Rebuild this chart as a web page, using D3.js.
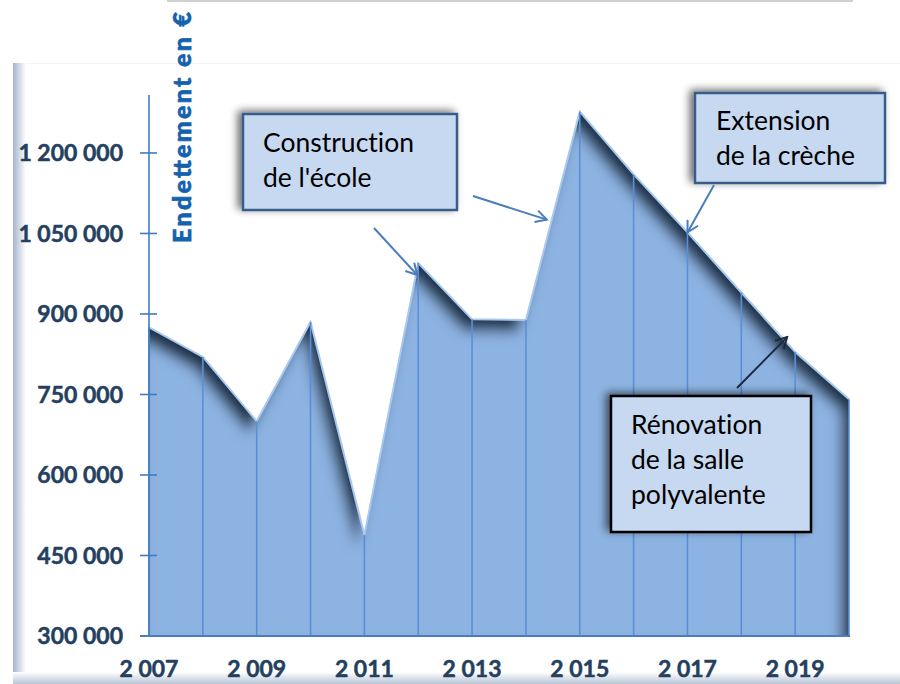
<!doctype html>
<html>
<head>
<meta charset="utf-8">
<script src="https://cdnjs.cloudflare.com/ajax/libs/d3/7.8.5/d3.min.js"></script>
<style>
  body { margin: 0; background: #fff; }
  svg { display: block; }
  .ytick text, .xtick text { font-family: Lato, "Liberation Sans", sans-serif; font-weight: bold; fill: #243f60; font-size: 23px; stroke: #243f60; stroke-width: 0.5px; }
  .note text { font-family: Lato, "Open Sans", sans-serif; font-size: 26.5px; fill: #000; font-variant-ligatures: none; }
</style>
</head>
<body>
<svg id="chart" width="900" height="684"></svg>
<script>
// data
var years = [2007, 2008, 2009, 2010, 2011, 2012, 2013, 2014, 2015, 2016, 2017, 2018, 2019, 2020];
var debt = [875000, 820000, 700000, 885000, 488000, 995000, 890000, 889000, 1277000, 1160000, 1052000, 940000, 829000, 741000];
var yTicks = [300000, 450000, 600000, 750000, 900000, 1050000, 1200000];
var xTicks = [2007, 2009, 2011, 2013, 2015, 2017, 2019];
var yTitle = "Endettement en €";
var notes = [
  ["Construction", "de l'école"],
  ["Extension", "de la crèche"],
  ["Rénovation", "de la salle", "polyvalente"]
];

var fmt = function (v) { return d3.format(",")(v).replace(/,/g, " "); };

var svg = d3.select("#chart");
var defs = svg.append("defs");

// frame gradients
var gl = defs.append("linearGradient").attr("id", "leftEdge").attr("x1", 0).attr("x2", 1);
gl.append("stop").attr("offset", 0).attr("stop-color", "#a3b5cc");
gl.append("stop").attr("offset", 1).attr("stop-color", "#ffffff");
var gb = defs.append("linearGradient").attr("id", "bottomEdge").attr("x1", 0).attr("x2", 0).attr("y1", 0).attr("y2", 1);
gb.append("stop").attr("offset", 0).attr("stop-color", "#ffffff");
gb.append("stop").attr("offset", 1).attr("stop-color", "#b8c5d5");

// inner shadow for the area
var f = defs.append("filter").attr("id", "inner").attr("x", "-10%").attr("y", "-10%").attr("width", "120%").attr("height", "120%");
f.append("feFlood").attr("flood-color", "#1f3149").attr("flood-opacity", 1).attr("result", "c");
f.append("feComposite").attr("in", "c").attr("in2", "SourceAlpha").attr("operator", "out").attr("result", "outside");
f.append("feOffset").attr("in", "outside").attr("dx", -8).attr("dy", 12).attr("result", "off");
f.append("feGaussianBlur").attr("in", "off").attr("stdDeviation", 6.5).attr("result", "blur");
f.append("feComposite").attr("in", "blur").attr("in2", "SourceAlpha").attr("operator", "in").attr("result", "shadow");
var fm = f.append("feMerge");
fm.append("feMergeNode").attr("in", "SourceGraphic");
fm.append("feMergeNode").attr("in", "shadow");

// soft shadow for the boxes
var fs = defs.append("filter").attr("id", "boxShadow").attr("x", "-20%").attr("y", "-20%").attr("width", "140%").attr("height", "140%");
fs.append("feGaussianBlur").attr("in", "SourceAlpha").attr("stdDeviation", 4).attr("result", "b");
fs.append("feOffset").attr("in", "b").attr("dx", -4).attr("dy", -2).attr("result", "o");
fs.append("feComponentTransfer").attr("in", "o").attr("result", "s")
  .append("feFuncA").attr("type", "linear").attr("slope", 0.6);
var fsm = fs.append("feMerge");
fsm.append("feMergeNode").attr("in", "s");
fsm.append("feMergeNode").attr("in", "SourceGraphic");

// arrow heads
function marker(id, color) {
  defs.append("marker").attr("id", id).attr("viewBox", "-12 -8 14 16")
    .attr("refX", 0).attr("refY", 0).attr("markerWidth", 14).attr("markerHeight", 16)
    .attr("markerUnits", "userSpaceOnUse").attr("orient", "auto")
    .append("path").attr("d", "M-11,-6L0,0L-11,6").attr("fill", "none")
    .attr("stroke", color).attr("stroke-width", 2);
}
marker("arrBlue", "#4a7ebb");
marker("arrDark", "#1c2b3f");

// frame
svg.append("line").attr("x1", 167).attr("x2", 853).attr("y1", 1).attr("y2", 1)
  .attr("stroke", "#d0d0d0").attr("stroke-width", 2);
svg.append("rect").attr("x", 13).attr("y", 63).attr("width", 887).attr("height", 1).attr("fill", "#f3f3f3");
svg.append("rect").attr("x", 13).attr("y", 63).attr("width", 13).attr("height", 621).attr("fill", "url(#leftEdge)");
svg.append("rect").attr("x", 13).attr("y", 672).attr("width", 887).attr("height", 12).attr("fill", "url(#bottomEdge)");

// scales
var x = d3.scaleLinear().domain([2007, 2020]).range([149, 849]);
var y = d3.scaleLinear().domain([300000, 1308000]).range([636, 95]);

var pts = years.map(function (yr, i) { return [yr, debt[i]]; });

var area = d3.area().x(function (d) { return x(d[0]); }).y0(y(300000)).y1(function (d) { return y(d[1]); });
var line = d3.line().x(function (d) { return x(d[0]); }).y(function (d) { return y(d[1]); });

svg.append("path").datum(pts).attr("d", area).attr("fill", "#8db3e2").attr("filter", "url(#inner)");
svg.append("path").datum(pts).attr("d", line).attr("fill", "none").attr("stroke", "#a9c8ee").attr("stroke-width", 2);

// drop lines
svg.selectAll("line.drop").data(pts).enter().append("line").attr("class", "drop")
  .attr("x1", function (d) { return x(d[0]); }).attr("x2", function (d) { return x(d[0]); })
  .attr("y1", function (d) { return y(d[1]); }).attr("y2", y(300000))
  .attr("stroke", "#5a8fd8").attr("stroke-width", 1.6);

// y axis
var yAxis = svg.append("g");
yAxis.append("line").attr("x1", x(2007)).attr("x2", x(2007)).attr("y1", y.range()[1]).attr("y2", y(300000))
  .attr("stroke", "#3f7cc0").attr("stroke-width", 1.6);
var yt = yAxis.selectAll("g.ytick").data(yTicks).enter().append("g").attr("class", "ytick")
  .attr("transform", function (d) { return "translate(0," + y(d) + ")"; });
yt.append("line").attr("x1", x(2007) - 9).attr("x2", x(2007) + 8).attr("stroke", "#3f7cc0").attr("stroke-width", 1.6);
yt.append("text").attr("x", 123).attr("dy", "0.36em").attr("text-anchor", "end").text(fmt);

// x axis
svg.append("line").attr("x1", x(2007) - 9).attr("x2", x(2020) + 1).attr("y1", y(300000)).attr("y2", y(300000))
  .attr("stroke", "#4a7ebb").attr("stroke-width", 2);
svg.selectAll("g.xtick").data(xTicks).enter().append("g").attr("class", "xtick")
  .append("text").attr("x", function (d) { return x(d); }).attr("y", 677).attr("text-anchor", "middle").text(fmt);

// axis title
svg.append("text").attr("transform", "translate(191,243) rotate(-90)")
  .attr("font-family", "Lato, sans-serif").attr("font-weight", 900).attr("font-size", 25)
  .attr("fill", "#1461ad").attr("stroke", "#1461ad").attr("stroke-width", 0.6)
  .attr("textLength", 231).attr("lengthAdjust", "spacing").text(yTitle);

// annotations
var boxes = [
  { x: 243, y: 114, w: 214, h: 96, stroke: "#385d8a", tx: 263, ty: 152, lines: notes[0] },
  { x: 695, y: 93, w: 190, h: 90, stroke: "#385d8a", tx: 716, ty: 130, lines: notes[1] },
  { x: 611, y: 396, w: 200, h: 136, stroke: "#000000", tx: 631, ty: 434, lines: notes[2] }
];
var nb = svg.selectAll("g.note").data(boxes).enter().append("g").attr("class", "note");
nb.append("rect").attr("x", function (d) { return d.x; }).attr("y", function (d) { return d.y; })
  .attr("width", function (d) { return d.w; }).attr("height", function (d) { return d.h; })
  .attr("fill", "#c6d9f1").attr("stroke", function (d) { return d.stroke; }).attr("stroke-width", 2.5)
  .attr("filter", "url(#boxShadow)");
nb.each(function (d) {
  var g = d3.select(this);
  d.lines.forEach(function (t, i) {
    g.append("text").attr("x", d.tx).attr("y", d.ty + i * 35).text(t);
  });
});

// arrows, tips placed relative to the data points they point at
function pt(yr) { return [x(yr), y(debt[years.indexOf(yr)])]; }
var p12 = pt(2012), p15 = pt(2015), p17 = pt(2017), p19 = pt(2019);
var arrows = [
  { x1: 374, y1: 228, x2: p12[0] - 1, y2: p12[1] + 12, m: "arrBlue", c: "#4a7ebb" },
  { x1: 473, y1: 196, x2: p15[0] - 33, y2: p15[1] + 108, m: "arrBlue", c: "#4a7ebb" },
  { x1: 714, y1: 185, x2: p17[0], y2: p17[1], m: "arrBlue", c: "#4a7ebb" },
  { x1: 737, y1: 388, x2: p19[0] - 8, y2: p19[1] - 15, m: "arrDark", c: "#1c2b3f" }
];
svg.selectAll("line.arrow").data(arrows).enter().append("line").attr("class", "arrow")
  .attr("x1", function (d) { return d.x1; }).attr("y1", function (d) { return d.y1; })
  .attr("x2", function (d) { return d.x2; }).attr("y2", function (d) { return d.y2; })
  .attr("stroke", function (d) { return d.c; }).attr("stroke-width", 2)
  .attr("marker-end", function (d) { return "url(#" + d.m + ")"; });
</script>
</body>
</html>
